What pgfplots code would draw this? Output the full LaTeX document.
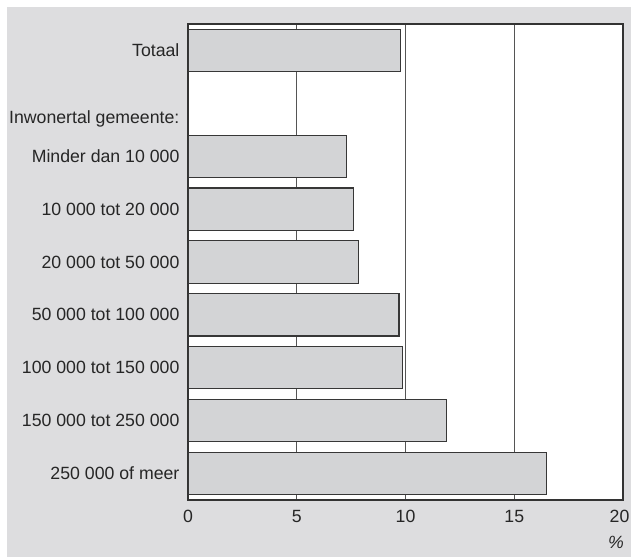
\documentclass[border=0pt]{standalone}
\usepackage{pgfplots}
\pgfplotsset{compat=1.18}
\usepackage{fontspec}
\setmainfont{Liberation Sans}
\definecolor{bggray}{RGB}{221,221,223}
\definecolor{barfill}{RGB}{211,212,214}
\definecolor{barline}{RGB}{55,55,55}
\definecolor{gridgray}{RGB}{85,85,85}
\begin{document}
\fontsize{17.7bp}{20bp}\selectfont
\begin{tikzpicture}[x=1bp,y=1bp]
% page background: white margin on top and left, grey panel
\fill[white] (0,0) rectangle (631,557);
\fill[bggray] (7,0) rectangle (631,550);
\begin{axis}[
	at={(188bp,57bp)}, anchor=south west,
	scale only axis,
	width=435bp, height=476bp,
	xbar,
	bar width=0.8,
	xmin=0, xmax=20,
	ymin=-0.5, ymax=8.5,
	y dir=reverse,
	axis background/.style={fill=white},
	axis line style={draw=black!80, line width=1.2bp},
	xtick={0,5,10,15,20},
	xticklabels={0,5,10,15,{\kern-7bp 20}},
	xmajorgrids,
	grid style={draw=gridgray, line width=1.2bp},
	major tick length=0pt,
	ytick={0,1.3,2,3,4,5,6,7,8},
	yticklabels={Totaal,Inwonertal gemeente:,Minder dan 10 000,10 000 tot 20 000,20 000 tot 50 000,50 000 tot 100 000,100 000 tot 150 000,150 000 tot 250 000,250 000 of meer},
	yticklabel style={anchor=east, xshift=-2.5bp, text=black!85},
	xticklabel style={anchor=north, yshift=-4bp, text=black!85},
	tick label style={font=\fontsize{17.7bp}{20bp}\selectfont},
	]
	\addplot[fill=barfill, draw=barline, line width=1.1bp] coordinates {
		(9.75,0) (7.27,2) (7.60,3) (7.82,4) (9.70,5) (9.87,6) (11.87,7) (16.49,8)};
\end{axis}
\node[anchor=center, text=black!85] at (616,15) {\textit{\%}};
\pgfresetboundingbox
\path[use as bounding box] (0,0) rectangle (631,557);
\end{tikzpicture}
\end{document}
